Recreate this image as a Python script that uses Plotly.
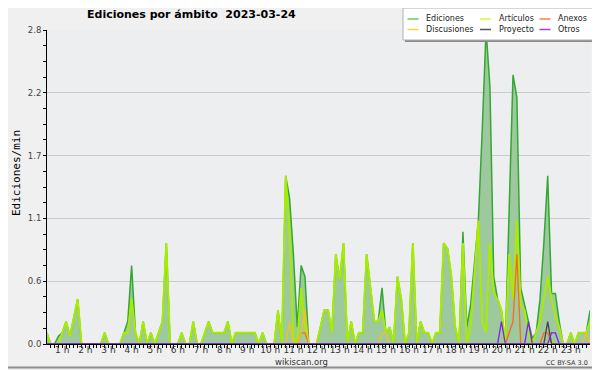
import plotly.graph_objects as go

# ---- data: 10-minute slots from 00:20 to 23:50 (edits per minute) ----
slot_minutes = [20 + 10 * i for i in range(142)]
hours = [m / 60 for m in slot_minutes]

ediciones = [
    0.1, 0, 0, 0.07,
    0.1, 0.2, 0.07, 0.25, 0.4, 0,
    0, 0, 0, 0, 0, 0.1,
    0, 0, 0, 0, 0.1, 0.2,
    0.7, 0.1, 0, 0.2, 0, 0.1,
    0, 0.1, 0.2, 0.9, 0, 0,
    0, 0.1, 0, 0, 0.2, 0,
    0, 0.1, 0.2, 0.1, 0.1, 0.1,
    0.1, 0.2, 0, 0.1, 0.1, 0.1,
    0.1, 0.1, 0.1, 0, 0.1, 0,
    0, 0, 0.3, 0, 1.5, 1.3,
    0.8, 0.15, 0.7, 0.6, 0, 0,
    0, 0.15, 0.3, 0.3, 0.1, 0.8,
    0.57, 0.9, 0, 0.2, 0, 0.1,
    0.1, 0.8, 0.5, 0.2, 0.2, 0.5,
    0.1, 0.15, 0, 0.6, 0.4, 0,
    0.1, 0.9, 0, 0.2, 0.1, 0.1,
    0, 0.1, 0.1, 0.9, 0.85, 0.6,
    0.15, 0, 1.0, 0.15, 0.35, 0.7,
    1.1, 1.9, 2.8, 2.3, 0.6, 0.4,
    0.3, 0, 1.2, 2.4, 2.2, 0.5,
    0.35, 0.2, 0.05, 0.1, 0.4, 0.9,
    1.5, 0.45, 0.45, 0.2, 0, 0,
    0.1, 0, 0.1, 0.1, 0.1, 0.3,
]

articulos = [
    0.1, 0, 0, 0,
    0.1, 0.2, 0.07, 0.25, 0.4, 0,
    0, 0, 0, 0, 0, 0.1,
    0, 0, 0, 0, 0.1, 0.1,
    0.4, 0.1, 0, 0.2, 0, 0.1,
    0, 0.1, 0.2, 0.9, 0, 0,
    0, 0.1, 0, 0, 0.2, 0,
    0, 0.1, 0.2, 0.1, 0.1, 0.1,
    0.1, 0.2, 0, 0.1, 0.1, 0.1,
    0.1, 0.1, 0.1, 0, 0.1, 0,
    0, 0, 0.3, 0, 1.5, 1.0,
    0.05, 0, 0.5, 0.15, 0, 0,
    0, 0.15, 0.3, 0.3, 0.1, 0.8,
    0.57, 0.9, 0, 0.2, 0, 0.1,
    0.1, 0.8, 0.5, 0.2, 0.2, 0.3,
    0.1, 0.15, 0, 0.6, 0.4, 0,
    0.1, 0.9, 0, 0.2, 0.1, 0.1,
    0, 0.1, 0.1, 0.9, 0.85, 0.6,
    0.15, 0, 0.9, 0, 0.15, 0.6,
    1.1, 0.2, 0.1, 0.9, 0.45, 0.4,
    0.3, 0, 0.8, 0.4, 1.1, 0.35,
    0.3, 0.1, 0, 0.1, 0.2, 0.4,
    0.6, 0.4, 0.25, 0.15, 0, 0,
    0.1, 0, 0.1, 0.1, 0.1, 0.2,
]

anexos = [
    0, 0, 0, 0,
    0, 0, 0, 0, 0, 0,
    0, 0, 0, 0, 0, 0,
    0, 0, 0, 0, 0, 0,
    0, 0, 0, 0, 0, 0,
    0, 0, 0, 0, 0, 0,
    0, 0, 0, 0, 0, 0,
    0, 0, 0, 0, 0, 0,
    0, 0, 0, 0, 0, 0,
    0, 0, 0, 0, 0, 0,
    0, 0, 0, 0, 0, 0,
    0, 0, 0.1, 0.1, 0, 0,
    0, 0, 0, 0, 0, 0,
    0, 0, 0, 0, 0, 0,
    0, 0, 0, 0, 0, 0,
    0, 0, 0, 0, 0, 0,
    0, 0, 0, 0, 0, 0,
    0, 0, 0, 0, 0, 0,
    0, 0, 0, 0, 0, 0,
    0, 0, 0, 0, 0, 0,
    0, 0, 0.1, 0.2, 0.8, 0,
    0, 0, 0, 0, 0, 0.1,
    0.1, 0, 0, 0, 0, 0,
    0, 0, 0, 0, 0, 0,
]

discusiones = [
    0, 0, 0, 0,
    0, 0, 0, 0, 0, 0,
    0, 0, 0, 0, 0, 0,
    0, 0, 0, 0, 0, 0,
    0, 0, 0, 0, 0, 0,
    0, 0, 0, 0, 0, 0,
    0, 0, 0, 0, 0, 0,
    0, 0, 0, 0, 0, 0,
    0, 0, 0, 0, 0, 0,
    0, 0, 0, 0, 0, 0,
    0, 0, 0, 0, 0, 0.2,
    0, 0, 0.1, 0.3, 0, 0,
    0, 0, 0, 0, 0, 0,
    0, 0, 0, 0, 0, 0,
    0, 0, 0, 0, 0, 0.1,
    0.1, 0, 0, 0, 0, 0,
    0, 0, 0, 0, 0, 0,
    0, 0, 0, 0, 0, 0,
    0, 0, 0, 0, 0, 0,
    0, 0, 0, 0, 0, 0,
    0, 0, 0, 0, 0, 0,
    0, 0, 0, 0, 0, 0,
    0, 0, 0, 0, 0, 0,
    0, 0, 0, 0, 0.1, 0,
]

proyecto = [
    0, 0, 0, 0,
    0, 0, 0, 0, 0, 0,
    0, 0, 0, 0, 0, 0,
    0, 0, 0, 0, 0, 0,
    0, 0, 0, 0, 0, 0,
    0, 0, 0, 0, 0, 0,
    0, 0, 0, 0, 0, 0,
    0, 0, 0, 0, 0, 0,
    0, 0, 0, 0, 0, 0,
    0, 0, 0, 0, 0, 0,
    0, 0, 0, 0, 0, 0,
    0, 0, 0, 0, 0, 0,
    0, 0, 0, 0, 0, 0,
    0, 0, 0, 0, 0, 0,
    0, 0, 0, 0, 0, 0,
    0, 0, 0, 0, 0, 0,
    0, 0, 0, 0, 0, 0,
    0, 0, 0, 0, 0, 0,
    0, 0, 0, 0, 0, 0,
    0, 0, 0, 0, 0, 0,
    0, 0, 0, 0, 0, 0,
    0, 0, 0, 0, 0, 0,
    0.2, 0, 0, 0, 0, 0,
    0, 0, 0, 0, 0, 0,
]

otros = [
    0, 0, 0, 0,
    0, 0, 0, 0, 0, 0,
    0, 0, 0, 0, 0, 0,
    0, 0, 0, 0, 0, 0,
    0, 0, 0, 0, 0, 0,
    0, 0, 0, 0, 0, 0,
    0, 0, 0, 0, 0, 0,
    0, 0, 0, 0, 0, 0,
    0, 0, 0, 0, 0, 0,
    0, 0, 0, 0, 0, 0,
    0, 0, 0, 0, 0, 0,
    0, 0, 0, 0, 0, 0,
    0, 0, 0, 0, 0, 0,
    0, 0, 0, 0, 0, 0,
    0, 0, 0, 0, 0, 0,
    0, 0, 0, 0, 0, 0,
    0, 0, 0, 0, 0, 0,
    0, 0, 0, 0, 0, 0,
    0, 0, 0, 0, 0, 0,
    0, 0, 0, 0, 0, 0,
    0.2, 0, 0, 0, 0, 0,
    0, 0.2, 0, 0, 0, 0,
    0, 0.1, 0.1, 0, 0, 0,
    0, 0, 0, 0, 0, 0,
]

series_names = ["Ediciones", "Artículos", "Anexos", "Discusiones", "Proyecto", "Otros"]
series_values = [ediciones, articulos, anexos, discusiones, proyecto, otros]
series_colors = ["#33a833", "#a8ec00", "#ff6a1a", "#f5c21b", "#444444", "#7f22f0"]
legend_colors = ["#66cc66", "#ccff33", "#ff8040", "#ffd633", "#555555", "#a040ff"]

hour_ticks = list(range(1, 24))
hour_labels = [f"{h} h" for h in hour_ticks]

y_ticks = [0, 0.56, 1.12, 1.68, 2.24, 2.8]
y_labels = ["0.0", "0.6", "1.1", "1.7", "2.2", "2.8"]

title_text = "Ediciones por ámbito\u00a0\u00a02023-03-24"
y_title = "Ediciones/min"

# ---- geometry (page body has an 8px margin; positions given in window pixels) ----
OFF = 8
W, H = 600 - OFF, 370 - OFF
ML, MR, MT, MB = 47 - OFF, 10, 30 - OFF, 26
PW, PH = W - ML - MR, H - MT - MB


def px2x(px):
    return (px - OFF - ML) / PW


def py2y(py):
    return (H - MB - (py - OFF)) / PH


fig = go.Figure()
for i, (name, vals, col) in enumerate(zip(series_names, series_values, series_colors)):
    if i == 0:
        fig.add_trace(go.Scatter(x=hours, y=vals, name=name, mode="lines",
                                 line=dict(color=col, width=1.5),
                                 fill="tozeroy", fillcolor="#9ec89e"))
    elif i == 1:
        fig.add_trace(go.Scatter(x=hours, y=vals, name=name, mode="lines",
                                 line=dict(color=col, width=2)))
    else:
        fig.add_trace(go.Scatter(x=hours, y=vals, name=name, mode="lines",
                                 line=dict(color=col, width=1.3)))

shapes = []
annotations = []

# figure border (right / bottom)
shapes.append(dict(type="line", xref="paper", yref="paper",
                   x0=px2x(597.5), x1=px2x(597.5), y0=py2y(368), y1=py2y(8),
                   line=dict(color="#8c8c8c", width=2)))
shapes.append(dict(type="line", xref="paper", yref="paper",
                   x0=px2x(8), x1=px2x(598), y0=py2y(367.5), y1=py2y(367.5),
                   line=dict(color="#8c8c8c", width=2)))

# legend box (shadow + box)
shapes.append(dict(type="rect", xref="paper", yref="paper",
                   x0=px2x(405), x1=px2x(596), y0=py2y(42), y1=py2y(10),
                   fillcolor="#8a8a8a", line=dict(width=0)))
shapes.append(dict(type="rect", xref="paper", yref="paper",
                   x0=px2x(403), x1=px2x(594), y0=py2y(40), y1=py2y(8),
                   fillcolor="#ffffff", line=dict(color="#b0b0b0", width=1)))

col_line_px = [(407.5, 418.5), (480, 491), (539.5, 550.5)]
col_text_px = [424, 496.5, 555.5]
row_py = [19, 29.5]
for i, name in enumerate(series_names):
    r, c = divmod(i, 3)
    shapes.append(dict(type="line", xref="paper", yref="paper",
                       x0=px2x(col_line_px[c][0]), x1=px2x(col_line_px[c][1]),
                       y0=py2y(row_py[r]), y1=py2y(row_py[r]),
                       line=dict(color=legend_colors[i], width=1.5)))
    annotations.append(dict(text=name, xref="paper", yref="paper",
                            x=px2x(col_text_px[c]), y=py2y(row_py[r]),
                            xanchor="left", yanchor="middle", showarrow=False,
                            font=dict(family="DejaVu Sans", size=8, color="#222")))

# title
annotations.append(dict(text=f"<b>{title_text}</b>", xref="paper", yref="paper",
                        x=px2x(85), y=py2y(14.5), xanchor="left", yanchor="middle",
                        showarrow=False,
                        font=dict(family="DejaVu Sans", size=11, color="#000")))
# y title
annotations.append(dict(text=y_title, xref="paper", yref="paper",
                        x=px2x(16), y=py2y(173), xanchor="center", yanchor="middle",
                        textangle=-90, showarrow=False,
                        font=dict(family="DejaVu Sans Mono", size=11, color="#000")))
# footer
annotations.append(dict(text="wikiscan.org", xref="paper", yref="paper",
                        x=px2x(301), y=py2y(361.5), xanchor="center", yanchor="middle",
                        showarrow=False,
                        font=dict(family="DejaVu Sans", size=8.5, color="#333")))
annotations.append(dict(text="CC BY-SA 3.0", xref="paper", yref="paper",
                        x=px2x(590), y=py2y(363), xanchor="right", yanchor="middle",
                        showarrow=False,
                        font=dict(family="DejaVu Sans", size=6.5, color="#333")))

fig.update_layout(
    width=W, height=H, autosize=False,
    margin=dict(l=ML, r=MR, t=MT, b=MB, pad=0),
    paper_bgcolor="#f0f0f0", plot_bgcolor="#eceef0",
    showlegend=False,
    shapes=shapes, annotations=annotations,
    xaxis=dict(range=[0.34, 23.83], tickmode="array", tickvals=hour_ticks,
               ticktext=hour_labels, ticks="outside", ticklen=3, tickcolor="#000",
               showline=True, linecolor="#000", linewidth=1, showgrid=False,
               zeroline=False, ticklabelstandoff=-6,
               tickfont=dict(family="DejaVu Sans", size=9, color="#333"),
               minor=dict(tickmode="linear", tick0=0, dtick=1 / 6, ticks="outside",
                          ticklen=3, tickcolor="#000", showgrid=False)),
    yaxis=dict(range=[0, 2.8], tickmode="array", tickvals=y_ticks, ticktext=y_labels,
               ticks="outside", ticklen=3, tickcolor="#000",
               showline=True, linecolor="#000", linewidth=1,
               showgrid=True, gridcolor="#cbcbcb", gridwidth=1, zeroline=False,
               tickfont=dict(family="DejaVu Sans", size=8.5, color="#444"),
               minor=dict(tickmode="linear", tick0=0, dtick=0.14, ticks="outside",
                          ticklen=3, tickcolor="#000", showgrid=False)),
)

fig.write_html("out.html")
